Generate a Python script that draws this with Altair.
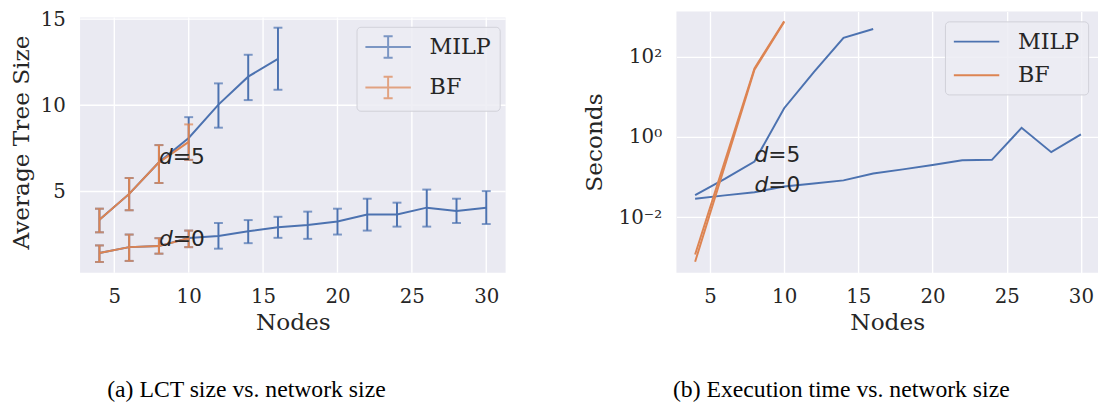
import altair as alt
import pandas as pd

# ---------------- data ----------------
METHODS = ["MILP", "BF"]
BLUE = "#4C72B0"
ORANGE = "#DD8452"

# (a) average tree size, d=5
milp5_nodes = [4, 6, 8, 10, 12, 14, 16]
milp5_size = [3.36, 4.86, 6.69, 8.10, 10.04, 11.66, 12.69]
milp5_lo = [2.63, 3.91, 5.49, 6.83, 8.70, 10.30, 10.90]
milp5_hi = [4.00, 5.78, 7.69, 9.31, 11.27, 12.93, 14.50]

bf5_nodes = [4, 6, 8, 10]
bf5_size = [3.36, 4.86, 6.69, 7.88]
bf5_lo = [2.63, 3.91, 5.49, 6.83]
bf5_hi = [4.00, 5.78, 7.69, 8.89]

# (a) average tree size, d=0
milp0_nodes = [4, 6, 8, 10, 12, 14, 16, 18, 20, 22, 24, 26, 28, 30]
milp0_size = [1.43, 1.77, 1.83, 2.30, 2.42, 2.69, 2.92, 3.05, 3.26, 3.66, 3.66, 4.06, 3.87, 4.06]
milp0_lo = [0.91, 0.97, 1.39, 1.77, 1.68, 2.00, 2.31, 2.25, 2.50, 2.73, 2.96, 2.96, 3.17, 3.11]
milp0_hi = [1.87, 2.50, 2.29, 2.73, 3.17, 3.34, 3.53, 3.83, 4.00, 4.58, 4.35, 5.11, 4.58, 5.02]

bf0_nodes = [4, 6, 8, 10]
bf0_size = [1.43, 1.77, 1.83, 2.29]
bf0_lo = [0.91, 0.97, 1.39, 1.77]
bf0_hi = [1.87, 2.50, 2.29, 2.73]

# (b) execution time in seconds
milp5_time = [0.0356, 0.09, 0.245, 5.25, 42.0, 299.0, 498.0]
milp0_time = [0.029, 0.035, 0.042, 0.058, 0.069, 0.083, 0.123, 0.156, 0.20, 0.265, 0.27, 1.70, 0.42, 1.16]
bf5_time = [0.00117, 0.25, 52.0, 780.0]
bf0_time = [0.00077, 0.19, 48.0, 740.0]

# annotations and captions
anno_nodes = [8, 8]
anno_rest = ["=5", "=0"]
anno_size_y = [6.6, 1.83]
anno_time_y = [0.232, 0.0423]
caption_a = "(a) LCT size vs. network size"
caption_b = "(b) Execution time vs. network size"

x_ticks = [5, 10, 15, 20, 25, 30]
size_ticks = [5, 10, 15]
time_ticks = [0.01, 1, 100]

# ---------------- tables ----------------
def block(method, d, nodes, vals, lo=None, hi=None):
    df = pd.DataFrame({"method": method, "d": d, "nodes": nodes, "val": vals})
    if lo is not None:
        df["lo"] = lo
        df["hi"] = hi
    return df

size_df = pd.concat([
    block("MILP", "5", milp5_nodes, milp5_size, milp5_lo, milp5_hi),
    block("MILP", "0", milp0_nodes, milp0_size, milp0_lo, milp0_hi),
    block("BF", "5", bf5_nodes, bf5_size, bf5_lo, bf5_hi),
    block("BF", "0", bf0_nodes, bf0_size, bf0_lo, bf0_hi),
], ignore_index=True)

time_df = pd.concat([
    block("MILP", "5", milp5_nodes, milp5_time),
    block("MILP", "0", milp0_nodes, milp0_time),
    block("BF", "5", bf5_nodes, bf5_time),
    block("BF", "0", bf0_nodes, bf0_time),
], ignore_index=True)

anno_a = pd.DataFrame({"nodes": anno_nodes, "val": anno_size_y, "sym": ["d", "d"], "rest": anno_rest})
anno_b = pd.DataFrame({"nodes": anno_nodes, "val": anno_time_y, "sym": ["d", "d"], "rest": anno_rest})
cap_a = pd.DataFrame({"caption": [caption_a]})
cap_b = pd.DataFrame({"caption": [caption_b]})
xgrid_df = pd.DataFrame({"nodes": x_ticks})
ygrid_df = pd.DataFrame({"t": size_ticks})
one_df = pd.DataFrame({"k": [0]})

TXT = "#262626"
SERIF = "DejaVu Serif"
PANEL_BG = "#EAEAF2"
BG = alt.ViewBackground(fill=PANEL_BG, stroke=None)
# legend glyphs: drawn in a box from x=-1..3 so the 46px sample sits left of the label
ERR_SYMBOL = ("M-1,0L3,0M1,-0.95L1,0.95M0.6,-0.95L1.4,-0.95"
              "M0.6,0.95L1.4,0.95")
LINE_SYMBOL = "M-1,0L3,0"

def legend(symbol, **kw):
    return alt.Legend(
        title=None, fillColor="rgba(236,236,243,0.85)", strokeColor="#d0d0d8",
        cornerRadius=4, padding=8, symbolType=symbol, symbolSize=529,
        symbolStrokeWidth=2, labelFont=SERIF, labelFontSize=22.5,
        labelColor=TXT, labelOffset=41, rowPadding=10, **kw
    )

def color_enc(leg):
    return alt.Color("method:N", scale=alt.Scale(domain=METHODS, range=[BLUE, ORANGE]),
                     legend=leg)

# ---------------- panel (a) ----------------
# panel (a) starts 6px lower than panel (b): its grey area begins at GAP_A
W_A, H_A, GAP_A = 431, 264.5, 6
xa_scale = alt.Scale(domain=[2.7, 31.3], nice=False, zero=False)
xa_axis = alt.Axis(values=x_ticks, title="Nodes", grid=False)
xa = alt.X("nodes:Q", scale=xa_scale, axis=xa_axis)
ya_scale = alt.Scale(domain=[0.29, 15.44], nice=False, zero=False)
ya_axis = alt.Axis(values=size_ticks, title="Average Tree Size", grid=False, titlePadding=7)
leg_a = legend(ERR_SYMBOL, orient="none", legendX=280, legendY=15.5)

def ya(field):
    return alt.Y(field + ":Q", scale=ya_scale, axis=ya_axis)

bg_a = alt.Chart(one_df).mark_rect(color=PANEL_BG).encode(
    x=alt.value(0), x2=alt.value(W_A), y=alt.value(GAP_A), y2=alt.value(H_A))
vgrid_a = alt.Chart(xgrid_df).mark_rule(color="#FFFFFF", strokeWidth=1.4).encode(
    x=xa, y=alt.value(GAP_A), y2=alt.value(H_A))
hgrid_a = alt.Chart(ygrid_df).mark_rule(color="#FFFFFF", strokeWidth=1.4).encode(
    y=ya("t"), x=alt.value(0), x2=alt.value(W_A))

layers_a = [bg_a, vgrid_a, hgrid_a]
for m in METHODS:
    b = alt.Chart(size_df).transform_filter(alt.datum.method == m)
    layers_a.append(b.mark_rule(strokeWidth=2).encode(
        x=xa, y=ya("lo"), y2="hi:Q", color=color_enc(leg_a)))
    for f in ["lo", "hi"]:
        layers_a.append(b.mark_tick(orient="horizontal", size=9, thickness=2).encode(
            x=xa, y=ya(f), color=color_enc(leg_a)))
    layers_a.append(b.mark_line(strokeWidth=2).encode(
        x=xa, y=ya("val"), color=color_enc(leg_a), detail="d:N"))

txt_a1 = alt.Chart(anno_a).mark_text(align="left", baseline="alphabetic", font="DejaVu Sans",
                                      fontSize=22, fontStyle="italic", color=TXT).encode(
    x=xa, y=ya("val"), text="sym:N")
txt_a2 = alt.Chart(anno_a).mark_text(align="left", baseline="alphabetic", font="DejaVu Sans",
                                      fontSize=22, dx=14, color=TXT).encode(
    x=xa, y=ya("val"), text="rest:N")
capt_a = alt.Chart(cap_a).mark_text(align="center", baseline="alphabetic",
                                      font="Liberation Serif", fontSize=24, color="#000000").encode(
    x=alt.value(168.5), y=alt.value(390), text="caption:N")

panel_a = alt.layer(*layers_a, txt_a1, txt_a2, capt_a).properties(width=W_A, height=H_A)

# ---------------- panel (b) ----------------
W_B, H_B = 427, 264.5
xb = alt.X("nodes:Q", scale=alt.Scale(domain=[2.74, 31.15], nice=False, zero=False),
           axis=alt.Axis(values=x_ticks, title="Nodes"))
yb_scale = alt.Scale(type="log", domain=[0.000413, 1360], nice=False)
sup_expr = ("datum.value >= 50 ? '10\u00b2' : (datum.value >= 0.5 ? '10\u2070' : '10\u207b\u00b2')")
yb_axis = alt.Axis(values=time_ticks, title="Seconds", labelExpr=sup_expr, titlePadding=12)
leg_b = legend(LINE_SYMBOL, orient="top-right", offset=10)

def yb(field):
    return alt.Y(field + ":Q", scale=yb_scale, axis=yb_axis)

layers_b = []
for m in METHODS:
    b = alt.Chart(time_df).transform_filter(alt.datum.method == m)
    layers_b.append(b.mark_line(strokeWidth=2).encode(
        x=xb, y=yb("val"), color=color_enc(leg_b), detail="d:N"))

txt_b1 = alt.Chart(anno_b).mark_text(align="left", baseline="alphabetic", font="DejaVu Sans",
                                      fontSize=22, fontStyle="italic", color=TXT).encode(
    x=xb, y=yb("val"), text="sym:N")
txt_b2 = alt.Chart(anno_b).mark_text(align="left", baseline="alphabetic", font="DejaVu Sans",
                                      fontSize=22, dx=14, color=TXT).encode(
    x=xb, y=yb("val"), text="rest:N")
capt_b = alt.Chart(cap_b).mark_text(align="center", baseline="alphabetic",
                                     font="Liberation Serif", fontSize=24, color="#000000").encode(
    x=alt.value(167), y=alt.value(390), text="caption:N")

panel_b = alt.layer(*layers_b, txt_b1, txt_b2, capt_b).properties(
    width=W_B, height=H_B, view=BG)

chart = alt.hconcat(panel_a, panel_b, spacing=76).resolve_scale(color="independent").properties(
    padding={"left": 1, "top": -2, "right": 0, "bottom": 0},
    background="#FFFFFF",
).configure_view(
    stroke=None
).configure_axis(
    labelFont=SERIF, labelFontSize=20, labelColor=TXT, labelPadding=15,
    titleFont=SERIF, titleFontSize=23.5, titleFontWeight="normal", titleColor=TXT,
    titlePadding=6, domain=False, ticks=False, grid=True, gridColor="#FFFFFF", gridWidth=1.4,
).configure_axisX(
    labelPadding=14.5, titlePadding=4,
)

chart.save("out.html", embed_options={"renderer": "svg", "actions": False})
